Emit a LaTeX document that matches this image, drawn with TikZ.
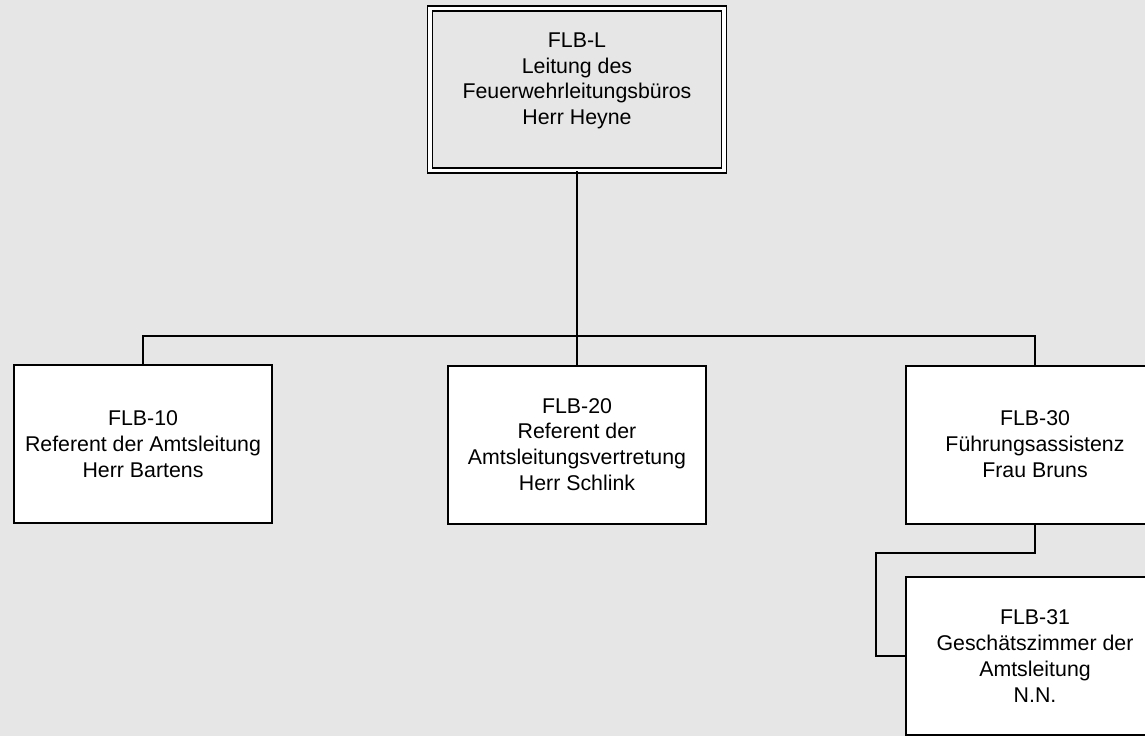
\documentclass[tikz,border=0pt]{standalone}
\usepackage{fontspec}
\setmainfont{Liberation Sans}
\definecolor{bg}{RGB}{230,230,230}
\begin{document}
\begin{tikzpicture}[x=0.75pt,y=-0.75pt,
  txt/.style={align=center,font=\fontsize{16}{19.4}\selectfont},
  unitbox/.style={draw=black,fill=white,line width=1.5pt,minimum width=193.5pt,minimum height=118.5pt,inner sep=0pt,txt},
  headbox/.style={draw=black,double=white,double distance=2.3pt,line width=1.4pt,minimum width=220.5pt,minimum height=121.5pt,inner sep=0pt},
  link/.style={draw=black,line width=1.5pt}]
\useasboundingbox (0,0) rectangle (1145,736);
\clip (0,0) rectangle (1145,736);
\fill[bg] (0,0) rectangle (1145,736);

\node[headbox,label={[txt,yshift=6.5pt]center:FLB-L\\Leitung des\\Feuerwehrleitungsbüros\\Herr Heyne}] (L) at (577,89.5) {};
\node[unitbox] (a) at (143,444) {FLB-10\\Referent der Amtsleitung\\Herr Bartens};
\node[unitbox] (b) at (577,444.5) {FLB-20\\Referent der\\Amtsleitungsvertretung\\Herr Schlink};
\node[unitbox] (c) at (1035,444.5) {FLB-30\\Führungsassistenz\\Frau Bruns};
\node[unitbox] (d) at (1035,656) {FLB-31\\Geschätszimmer der\\Amtsleitung\\N.N.};

\draw[link] (L.south) -- (b.north);
\draw[link] (a.north) -- ++(0,-28) -| (c.north);
\draw[link] (c.south) -- ++(0,28) -| ([xshift=-21.75pt]d.west) -- (d.west);
\end{tikzpicture}
\end{document}
